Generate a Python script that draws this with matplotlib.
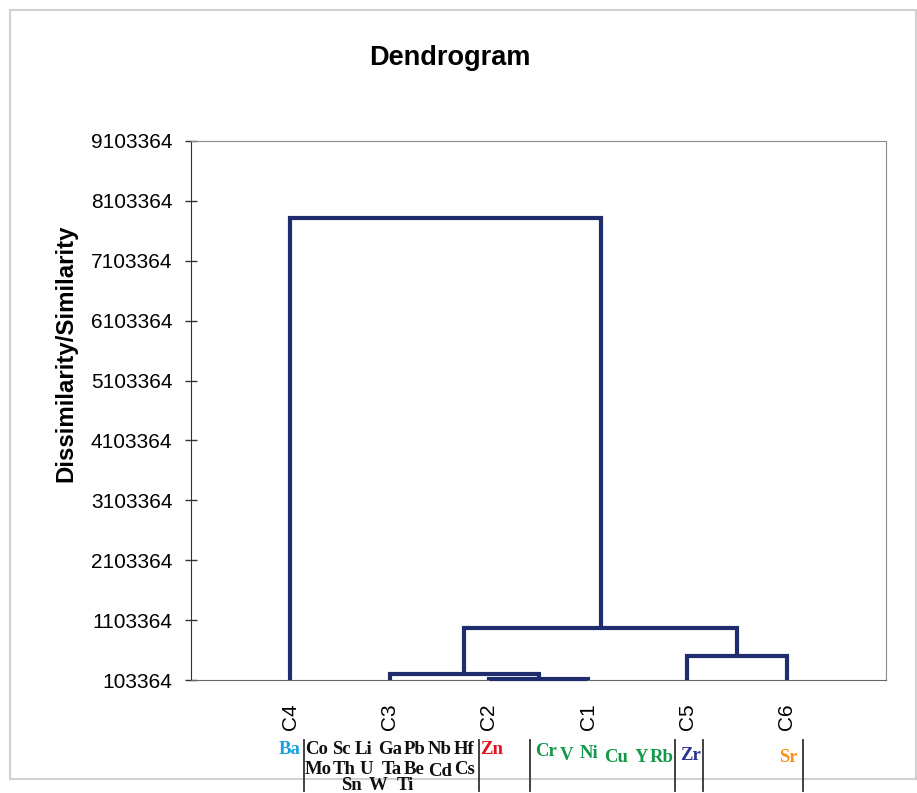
import matplotlib
matplotlib.use("Agg")
import matplotlib.pyplot as plt
from matplotlib.patches import Rectangle
from matplotlib.lines import Line2D

# ---- data ----
leaves = ["C4", "C3", "C2", "C1", "C5", "C6"]
base_level = 103364
# merges: (left node, right node, height); nodes are leaf names or merge indices
merge_left = ["C2", "C3", "C5", 1, "C4"]
merge_right = ["C1", 0, "C6", 2, 3]
merge_height = [125000, 203000, 504000, 976000, 7811000]
ytick_values = [103364 + k * 1000000 for k in range(10)]

# element labels per cluster rows
elem_rows = [
    ("Ba", "#1ba1e2"), ("Co", "#111111"), ("Sc", "#111111"), ("Li", "#111111"),
    ("Ga", "#111111"), ("Pb", "#111111"), ("Nb", "#111111"), ("Hf", "#111111"),
    ("Zn", "#e8101a"), ("Cr", "#14994a"), ("V", "#14994a"), ("Ni", "#14994a"),
    ("Cu", "#14994a"), ("Y", "#14994a"), ("Rb", "#14994a"), ("Zr", "#2b3590"),
    ("Sr", "#f7941d"),
    ("Mo", "#111111"), ("Th", "#111111"), ("U", "#111111"), ("Ta", "#111111"),
    ("Be", "#111111"), ("Cd", "#111111"), ("Cs", "#111111"),
    ("Sn", "#111111"), ("W", "#111111"), ("Ti", "#111111"),
]
# layout (pixel centres in the 917x793 figure)
elem_px = [
    (290, 749), (317, 749), (341, 749), (364, 749), (390, 750), (415, 750),
    (440, 749), (464, 749), (492, 750), (546, 752), (567, 755), (589, 754),
    (616, 757), (641, 757), (662, 757), (691, 756), (788, 758),
    (318, 770), (344, 770), (366, 770), (392, 769), (414, 769), (440, 771),
    (465, 770),
    (351, 785), (378, 785), (405, 785),
]
sep_px = [304, 479, 530, 675, 703, 803]

W, H = 917, 793
fig = plt.figure(figsize=(W / 100, H / 100), dpi=100)
fig.patch.set_facecolor("white")

# outer frame
fig.add_artist(Rectangle((10 / W, 1 - 779 / H), 906 / W, 769 / H,
                         transform=fig.transFigure, fill=False,
                         edgecolor="#d0d0d0", lw=1.5))

ax = fig.add_axes([191 / W, 1 - 680 / H, 695 / W, 539 / H])

xpos = {name: i + 1 for i, name in enumerate(leaves)}
ypos = {name: base_level for name in leaves}
line_color = "#1f2c6e"
for i, (l, r, h) in enumerate(zip(merge_left, merge_right, merge_height)):
    xl, yl = xpos[l], ypos[l]
    xr, yr = xpos[r], ypos[r]
    ax.plot([xl, xl, xr, xr], [yl, h, h, yr], color=line_color, lw=3,
            solid_joinstyle="miter", solid_capstyle="butt", clip_on=False,
            zorder=3)
    xpos[i] = (xl + xr) / 2
    ypos[i] = h

ax.set_xlim(0, 7)
ax.set_ylim(ytick_values[0], ytick_values[-1])
ax.set_xticks(range(1, len(leaves) + 1))
ax.set_xticklabels(leaves, rotation=90, fontsize=15, family="Liberation Sans",
                   va="top")
ax.tick_params(axis="x", length=0, pad=17)
ax.set_yticks(ytick_values)
ax.set_yticklabels([str(v) for v in ytick_values], fontsize=15,
                   family="Liberation Sans")
ax.tick_params(axis="y", direction="inout", length=9, width=1, color="#333333",
               pad=9)
for s in ["top", "right", "bottom"]:
    ax.spines[s].set_color("#8a8a8a")
ax.spines["left"].set_color("#333333")
ax.spines["bottom"].set_color("#666666")

fig.text(450 / W, 1 - 58 / H, "Dendrogram", ha="center", va="center",
         fontsize=19.5, fontweight="bold", family="Liberation Sans")
fig.text(66 / W, 1 - 353 / H, "Dissimilarity/Similarity", rotation=90,
         ha="center", va="center", fontsize=17.3, fontweight="bold",
         family="Liberation Sans")

for (txt, col), (px, py) in zip(elem_rows, elem_px):
    fig.text(px / W, 1 - py / H, txt, ha="center", va="center", color=col,
             fontsize=13.5, fontweight="bold", family="Liberation Serif")

for sx in sep_px:
    fig.add_artist(Line2D([sx / W, sx / W], [1 - 740 / H, 1 - 791 / H],
                          transform=fig.transFigure, color="#333333", lw=1.3))

fig.savefig("out.png", dpi=100, facecolor="white")
